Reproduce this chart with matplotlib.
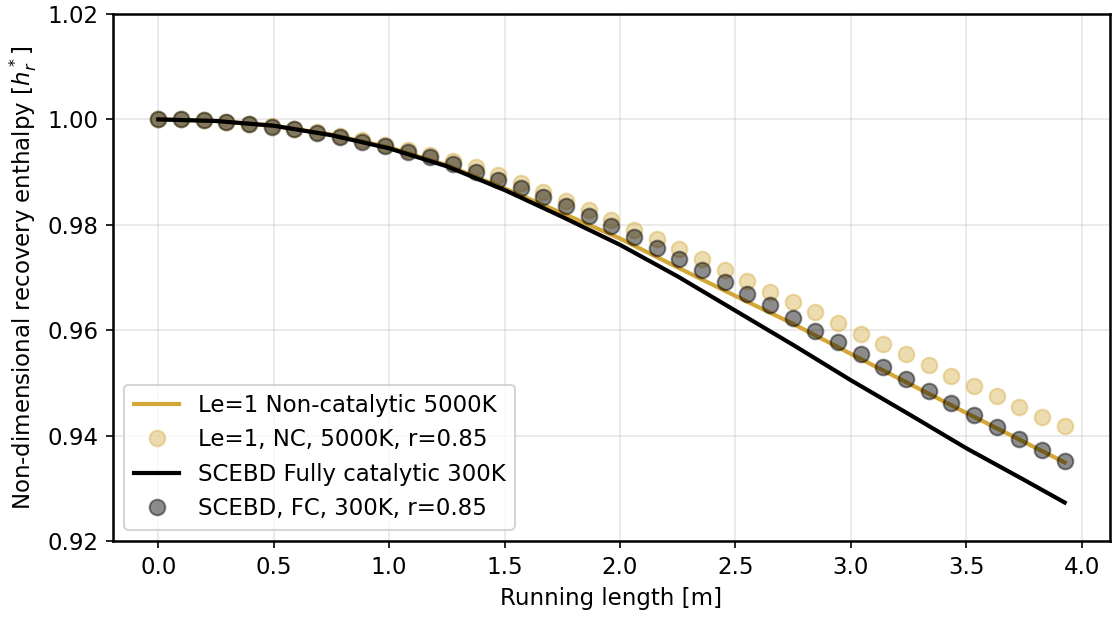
import numpy as np
import matplotlib
matplotlib.use('Agg')
import matplotlib.pyplot as plt

plt.rcParams['font.size'] = 11
plt.rcParams['axes.linewidth'] = 1.2

# marker positions along the running length [m]
x_pts = np.linspace(0, 3.926, 41)

h_nc_pts = [1.0000, 1.0000, 0.9999, 0.9996, 0.9992, 0.9987, 0.9982, 0.9976, 0.9969, 0.9960,
            0.9952, 0.9942, 0.9933, 0.9922, 0.9909, 0.9894, 0.9879, 0.9862, 0.9845, 0.9828,
            0.9810, 0.9791, 0.9773, 0.9755, 0.9735, 0.9714, 0.9694, 0.9673, 0.9654, 0.9634,
            0.9613, 0.9593, 0.9573, 0.9554, 0.9534, 0.9514, 0.9494, 0.9475, 0.9455, 0.9436,
            0.9419]

h_fc_pts = [1.0000, 1.0000, 0.9999, 0.9995, 0.9991, 0.9986, 0.9981, 0.9974, 0.9967, 0.9958,
            0.9949, 0.9939, 0.9928, 0.9916, 0.9901, 0.9885, 0.9869, 0.9853, 0.9836, 0.9817,
            0.9798, 0.9777, 0.9756, 0.9735, 0.9714, 0.9691, 0.9669, 0.9647, 0.9624, 0.9599,
            0.9577, 0.9554, 0.9530, 0.9507, 0.9484, 0.9461, 0.9439, 0.9416, 0.9394, 0.9373,
            0.9352]

# curves
x_line = [0.0, 0.25, 0.5, 0.75, 1.0, 1.25, 1.5, 1.75, 2.0, 2.25, 2.5, 2.75, 3.0, 3.25,
          3.5, 3.75, 3.926]
h_nc_line = [1.0000, 0.9997, 0.9988, 0.9971, 0.9947, 0.9913, 0.9869, 0.9822, 0.9774, 0.9719,
             0.9665, 0.9612, 0.9555, 0.9499, 0.9443, 0.9388, 0.9349]
h_fc_line = [1.0000, 0.9997, 0.9988, 0.9970, 0.9945, 0.9911, 0.9866, 0.9815, 0.9762, 0.9702,
             0.9637, 0.9572, 0.9505, 0.9441, 0.9376, 0.9316, 0.9273]

gold = '#d3a838'

fig = plt.figure(figsize=(1114 / 150, 617 / 150), dpi=150)
ax = fig.add_axes([0.1014, 0.1232, 0.8950, 0.8541])

ax.plot(x_line, h_nc_line, color=gold, lw=2, label='Le=1 Non-catalytic 5000K')
ax.plot(x_pts, h_nc_pts, 'o', color=gold, alpha=0.4, ms=7.5, label='Le=1, NC, 5000K, r=0.85')
ax.plot(x_line, h_fc_line, color='k', lw=2, label='SCEBD Fully catalytic 300K')
ax.plot(x_pts, h_fc_pts, 'o', color='k', alpha=0.45, ms=7.5, label='SCEBD, FC, 300K, r=0.85')

ax.set_ylim(0.92, 1.02)
ax.set_yticks(np.arange(0.92, 1.021, 0.02))
ax.set_xticks(np.arange(0, 4.01, 0.5))
ax.grid(alpha=0.3)
ax.set_xlabel('Running length [m]')
ax.set_ylabel(r'Non-dimensional recovery enthalpy [$h_r^*$]')
ax.legend(loc='lower left')

fig.savefig('out.png', dpi=150)
